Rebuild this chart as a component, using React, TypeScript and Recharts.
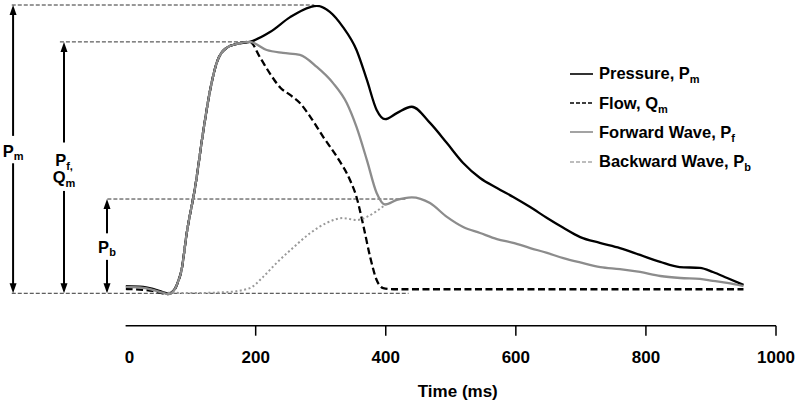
import { LineChart, Line, XAxis, YAxis, ReferenceLine, ReferenceDot, Legend } from 'recharts';

const FONT = '"Liberation Sans", Arial, Helvetica, sans-serif';

// [time in ms, value as % of peak pressure]
const pressure: [number, number][] = [
  [0, 2.5], [27, 2.2], [42, 1.5], [57, 0.4], [65, -0.1], [73, 0.8], [81, 4.3], [86, 8.1],
  [94, 20.9], [107, 36.9], [119, 55.6], [130, 70.5], [140, 79.9], [155, 85.1], [171, 86.5],
  [191, 87.2], [222, 90.6], [253, 95.8], [284, 99.3], [294, 99.7], [314, 97.6], [334, 92.4],
  [355, 84.4], [371, 74.0], [386, 63.6], [399, 60.4], [417, 62.5], [440, 64.7], [468, 59.1],
  [494, 52.1], [519, 45.2], [545, 40.0], [571, 36.5], [596, 33.4], [622, 29.9], [648, 26.1],
  [673, 22.7], [699, 19.5], [729, 17.5], [760, 15.7], [791, 13.3], [822, 10.9], [852, 9.1],
  [883, 8.8], [903, 7.4], [925, 5.3], [950, 2.9],
];

const flow: [number, number][] = [
  [0, 1.5], [27, 1.2], [42, 0.8], [57, 0.0], [65, -0.3], [73, 0.5], [81, 4.1], [86, 8.0],
  [94, 20.9], [107, 36.9], [119, 55.6], [130, 70.5], [140, 79.9], [155, 85.1], [171, 86.5],
  [191, 87.2], [207, 81.7], [222, 76.2], [238, 71.3], [253, 68.8], [268, 66.0], [284, 61.2],
  [304, 54.2], [325, 47.3], [345, 39.3], [355, 33.4], [366, 23.0], [376, 12.6], [386, 4.6],
  [396, 1.8], [412, 1.4], [950, 1.4],
];

const forward: [number, number][] = [
  [0, 2.2], [27, 1.9], [42, 1.2], [57, 0.2], [65, -0.3], [73, 0.6], [81, 4.2], [86, 8.0],
  [94, 20.9], [107, 36.9], [119, 55.6], [130, 70.5], [140, 79.9], [155, 85.1], [171, 86.5],
  [191, 87.2], [217, 84.4], [242, 83.4], [268, 82.7], [294, 78.5], [319, 72.9], [340, 66.0],
  [355, 57.7], [371, 46.2], [386, 34.8], [399, 30.8], [417, 32.4], [440, 33.3], [468, 31.3],
  [494, 26.5], [519, 23.0], [545, 20.9], [571, 18.8], [596, 17.5], [622, 15.7], [648, 14.0],
  [673, 12.2], [699, 10.7], [730, 9.1], [760, 8.4], [791, 7.4], [822, 6.0], [853, 5.3],
  [883, 5.0], [903, 4.3], [925, 3.6], [950, 2.5],
];

const backward: [number, number][] = [
  [65, 0.2], [104, 0.1], [155, 0.4], [191, 1.8], [211, 5.6], [232, 10.5], [257, 15.7],
  [284, 20.9], [309, 24.4], [334, 26.1], [355, 25.4], [371, 26.5], [386, 28.5], [401, 31.0],
];

const xTicks = [0, 200, 400, 600, 800, 1000];

// dashed guide lines: [level, from ms, to ms]
const guides: [number, number, number][] = [
  [100, -175, 290],
  [87.2, -101, 191],
  [32.7, -28, 433],
  [0, -175, 435],
];

// arrows: [time, start level (label gap), tip level]
const arrows: [number, number, number][] = [
  [-173, 54.6, 100], [-173, 45.1, 0],
  [-94.7, 52.3, 87.2], [-94.7, 35.5, 0],
  [-28.6, 20.8, 32.7], [-28.6, 11.6, 0],
];

// arrow labels: [time, level, main, subscript]
const arrowLabels: [number, number, string, string][] = [
  [-173, 49.4, 'P', 'm'],
  [-94.7, 46.1, 'P', 'f,'],
  [-94.7, 40.3, 'Q', 'm'],
  [-28.6, 16.1, 'P', 'b'],
];

const legendItems = [
  { name: 'Pressure, P', sub: 'm', color: '#000', dash: undefined },
  { name: 'Flow, Q', sub: 'm', color: '#000', dash: '4 2' },
  { name: 'Forward Wave, P', sub: 'f', color: '#8c8c8c', dash: undefined },
  { name: 'Backward Wave, P', sub: 'b', color: '#a8a8a8', dash: '4 2' },
];

const toRows = (pts: [number, number][]) => pts.map(([t, v]) => ({ t, v }));

const TimeTick = ({ x, y, payload }: any) => (
  <g>
    {payload.value !== 0 && <line x1={x} y1={y} x2={x} y2={y + 10} stroke="#000" strokeWidth={1.5} />}
    <text
      x={x + (payload.value === 0 ? 4 : 0)}
      y={y + 37}
      textAnchor="middle"
      fontFamily={FONT}
      fontWeight="bold"
      fontSize={17}
      fill="#000"
    >
      {payload.value}
    </text>
  </g>
);

const arrowShape = (p: any) => {
  const { x1, y1, x2, y2 } = p;
  const dir = y2 > y1 ? 1 : -1;
  return (
    <g>
      <line x1={x1} y1={y1} x2={x2} y2={y2 - dir * 6} stroke="#000" strokeWidth={2} />
      <polygon points={`${x2},${y2} ${x2 - 3.5},${y2 - dir * 10} ${x2 + 3.5},${y2 - dir * 10}`} fill="#000" />
    </g>
  );
};

const labelShape = (main: string, sub: string) => (p: any) => (
  <text x={p.cx} y={p.cy + 6} textAnchor="middle" fontFamily={FONT} fontWeight="bold" fontSize={16.5} fill="#000">
    {main}
    <tspan fontSize={11} dy={3.5}>{sub}</tspan>
  </text>
);

const LegendBox = () => (
  <div style={{ fontFamily: FONT, fontWeight: 'bold', fontSize: 16.5, color: '#000' }}>
    {legendItems.map((item) => (
      <div key={item.name} style={{ display: 'flex', alignItems: 'center', height: 29.2, whiteSpace: 'nowrap' }}>
        <svg width={23} height={10} style={{ marginRight: 6 }}>
          <line x1={0} y1={5} x2={23} y2={5} stroke={item.color} strokeWidth={1.6} strokeDasharray={item.dash} />
        </svg>
        <span>
          {item.name}
          <span style={{ fontSize: 11, position: 'relative', top: 4 }}>{item.sub}</span>
        </span>
      </div>
    ))}
  </div>
);

export default function App() {
  return (
    <div style={{ position: 'absolute', left: 0, top: 0, width: 800, height: 405, background: '#fff' }}>
      <LineChart width={800} height={405} margin={{ top: 5, right: 24, left: 125.6, bottom: 0 }}>
        <XAxis
          dataKey="t"
          type="number"
          domain={[0, 1000]}
          ticks={xTicks}
          interval={0}
          allowDataOverflow
          height={79.3}
          axisLine={{ stroke: '#000', strokeWidth: 1.5 }}
          tickLine={false}
          tickSize={0}
          tickMargin={0}
          tick={<TimeTick />}
          label={{
            content: (p: any) => {
              const vb = p.viewBox || {};
              return (
                <text
                  x={vb.x + vb.width / 2 + 7}
                  y={vb.y + 71}
                  textAnchor="middle"
                  fontFamily={FONT}
                  fontWeight="bold"
                  fontSize={17}
                  fill="#000"
                >
                  Time (ms)
                </text>
              );
            },
          }}
        />
        <YAxis hide type="number" domain={[-11.24, 100]} allowDataOverflow />
        <Legend
          layout="vertical"
          align="center"
          verticalAlign="middle"
          content={() => <LegendBox />}
          wrapperStyle={{ left: 570, top: 59.4, width: 230 }}
        />

        {guides.map(([v, from, to], i) => (
          <ReferenceLine
            key={`g${i}`}
            segment={[{ x: from, y: v }, { x: to, y: v }]}
            ifOverflow="visible"
            stroke="#333"
            strokeWidth={1}
            strokeDasharray="4 2"
          />
        ))}
        {arrows.map(([t, from, to], i) => (
          <ReferenceLine
            key={`a${i}`}
            segment={[{ x: t, y: from }, { x: t, y: to }]}
            ifOverflow="visible"
            shape={arrowShape}
          />
        ))}
        {arrowLabels.map(([t, v, main, sub], i) => (
          <ReferenceDot key={`l${i}`} x={t} y={v} r={0} ifOverflow="visible" shape={labelShape(main, sub)} />
        ))}

        <Line data={toRows(pressure)} dataKey="v" type="monotone" stroke="#000" strokeWidth={2.3} dot={false} isAnimationActive={false} />
        <Line data={toRows(flow)} dataKey="v" type="monotone" stroke="#000" strokeWidth={2.3} strokeDasharray="7 3.5" dot={false} isAnimationActive={false} />
        <Line data={toRows(forward)} dataKey="v" type="monotone" stroke="#8c8c8c" strokeWidth={2.3} dot={false} isAnimationActive={false} />
        <Line data={toRows(backward)} dataKey="v" type="monotone" stroke="#9a9a9a" strokeWidth={2} strokeDasharray="2 2.5" dot={false} isAnimationActive={false} />
      </LineChart>
    </div>
  );
}
